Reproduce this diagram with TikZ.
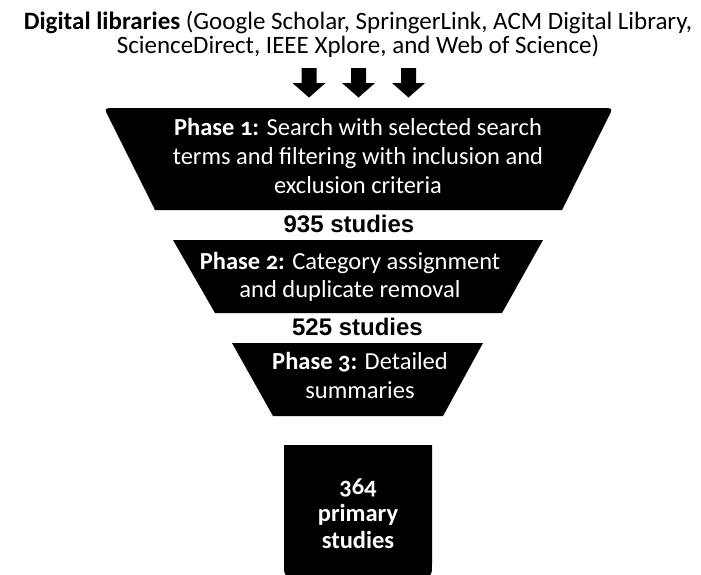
\documentclass[tikz,border=0pt]{standalone}
\usepackage{fontspec}
\setmainfont{Carlito}[Numbers=OldStyle]
\newfontfamily\arialf{Liberation Sans}
\begin{document}
\begin{tikzpicture}[x=1pt,y=-1pt,
  phase/.style={text=white, align=center, font=\fontsize{24.5}{29}\selectfont, inner sep=0pt, anchor=base},
  count/.style={font=\arialf\bfseries\fontsize{24}{28}\selectfont, inner sep=0pt, anchor=base},
  funnel/.style={fill=black}]
\useasboundingbox (0,0) rectangle (701,574);
\fill[white] (0,0) rectangle (701,574);
% heading (base anchor = baseline of last line)
\node[anchor=base, align=center, font=\fontsize{25}{24}\selectfont, inner sep=0pt] (libs) at (358,53)
  {\textbf{Digital libraries} (Google Scholar, SpringerLink, ACM Digital Library,\\ScienceDirect, IEEE Xplore, and Web of Science)};
% block arrows
\foreach \cx in {309,358.5,408.5}
  \fill (\cx-7.5,68) -- (\cx+7.5,68) -- (\cx+7.5,83) -- (\cx+16.5,83) -- (\cx,97.5) -- (\cx-16.5,83) -- (\cx-7.5,83) -- cycle;
% phase 1 (top corners rounded)
\fill[funnel] (155,210) -- (108.5,116.9) .. controls (104,108) .. (114,108) -- (603,108)
  .. controls (613,108) .. (608.5,116.9) -- (562,210) -- cycle;
\node[phase] (p1) at (358,193) {\textbf{Phase 1:} Search with selected search\\terms and filtering with inclusion and\\exclusion criteria};
\node[count] (c1) at (349,232) {935 studies};
% phase 2
\fill[funnel] (173,240) -- (543,240) -- (502,313) -- (215,313) -- cycle;
\node[phase, font=\fontsize{24.5}{28}\selectfont] (p2) at (350,297) {\textbf{Phase 2:} Category assignment\\and duplicate removal};
\node[count] (c2) at (357.5,335) {525 studies};
% phase 3
\fill[funnel] (232,343) -- (483,343) -- (443,416) -- (273,416) -- cycle;
\node[phase] (p3) at (360,398) {\textbf{Phase 3:} Detailed\\summaries};
% result box (bottom corners rounded)
\fill[funnel] (284,445) -- (432,445) -- (432,564) .. controls (432,576) .. (420,576) -- (296,576)
  .. controls (284,576) .. (284,564) -- cycle;
\node[phase, font=\bfseries\fontsize{24.5}{27}\selectfont] (res) at (358,548) {364\\primary\\studies};
\end{tikzpicture}
\end{document}
